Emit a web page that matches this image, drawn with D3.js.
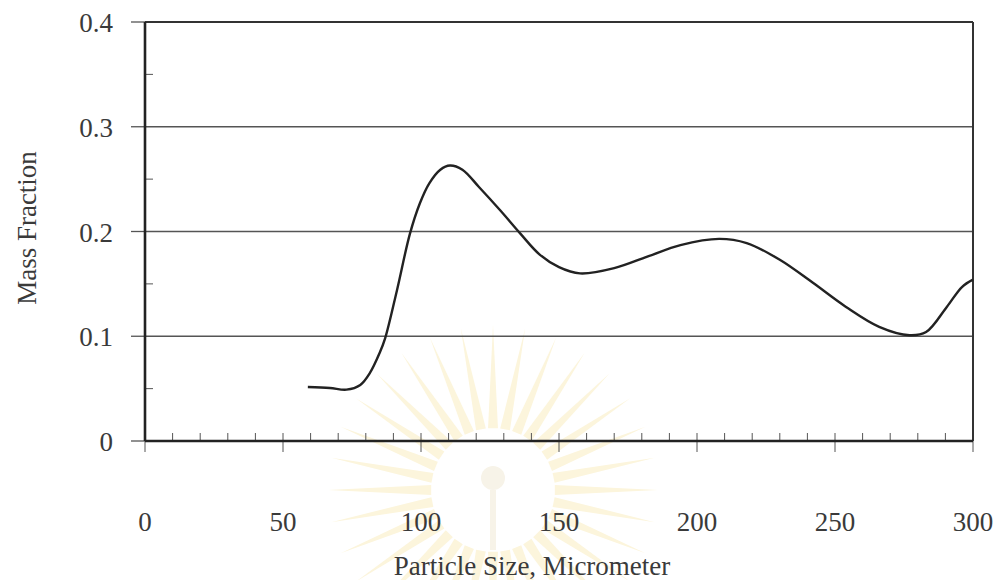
<!DOCTYPE html>
<html>
<head>
<meta charset="utf-8">
<script src="https://cdn.jsdelivr.net/npm/d3@7"></script>
<style>
  body { margin: 0; background: #fff; }
  text { font-family: "Liberation Serif", "DejaVu Serif", serif; fill: #3a3a3a; }
</style>
</head>
<body>
<div id="chart"></div>
<script>
// particle size (micrometer) and mass fraction
var sizes = [59, 67, 73, 78, 81.5, 85, 87, 91.3, 96, 99.6, 103, 107, 110.5, 115, 121, 128.6, 136, 143, 150, 157.6,
             170, 182, 194, 208, 218, 230, 242, 254, 266, 277, 283, 290.5, 296, 300]
var fractions = [0.0515, 0.0506, 0.0490, 0.0535, 0.065, 0.084, 0.098, 0.144, 0.198, 0.227, 0.246, 0.259, 0.263, 0.259, 0.2425, 0.2205, 0.198, 0.178, 0.166, 0.160,
                 0.165, 0.176, 0.187, 0.193, 0.189, 0.173, 0.151, 0.128, 0.109, 0.101, 0.104, 0.128, 0.147, 0.154]
var xTicks = [0, 50, 100, 150, 200, 250, 300]
var yTicks = [0, 0.1, 0.2, 0.3, 0.4]

var W = 998, H = 580
var margin = {top: 22, right: 25, bottom: 139, left: 145}

var svg = d3.select("#chart").append("svg")
  .attr("width", W).attr("height", H)

var x = d3.scaleLinear().domain([0, 300]).range([margin.left, W - margin.right])
var y = d3.scaleLinear().domain([0, 0.4]).range([H - margin.bottom, margin.top])

//////////////////// faint watermark behind the chart ////////////////////
var wm = svg.append("g").attr("transform", "translate(493,490)")
d3.range(0, 32).forEach(function (i) {
  var a = i * Math.PI * 2 / 32
  var a0 = a - 0.08, a1 = a + 0.08
  wm.append("path")
    .attr("d", "M" + 62 * Math.cos(a0) + "," + 62 * Math.sin(a0) +
               "L" + 165 * Math.cos(a) + "," + 165 * Math.sin(a) +
               "L" + 62 * Math.cos(a1) + "," + 62 * Math.sin(a1) + "Z")
    .style("fill", "#fcf5dc")
})
wm.append("circle").attr("r", 58).style("fill", "#fff")
wm.append("circle").attr("cy", -12).attr("r", 12).style("fill", "#f7f3e8")
wm.append("rect").attr("x", -3).attr("y", 0).attr("width", 6).attr("height", 60).style("fill", "#f7f3e8")

//////////////////// grid, ticks and frame ////////////////////
svg.append("g").selectAll("line.grid")
  .data([0.1, 0.2, 0.3])
  .enter().append("line")
    .attr("x1", x(0)).attr("x2", x(300))
    .attr("y1", d => y(d)).attr("y2", d => y(d))
    .style("stroke", "#555").style("stroke-width", 1.4)

// minor ticks inside the frame
svg.append("g").selectAll("line")
  .data(d3.range(10, 300, 10).filter(d => d % 50 != 0))
  .enter().append("line")
    .attr("x1", d => x(d)).attr("x2", d => x(d))
    .attr("y1", y(0)).attr("y2", y(0) - 8)
    .style("stroke", "#555").style("stroke-width", 1)

svg.append("g").selectAll("line")
  .data([0.05, 0.15, 0.25, 0.35])
  .enter().append("line")
    .attr("x1", x(0)).attr("x2", x(0) + 8)
    .attr("y1", d => y(d)).attr("y2", d => y(d))
    .style("stroke", "#555").style("stroke-width", 1)

// major ticks cross the axis lines
svg.append("g").selectAll("line")
  .data(xTicks)
  .enter().append("line")
    .attr("x1", d => x(d)).attr("x2", d => x(d))
    .attr("y1", y(0) - 8).attr("y2", y(0) + 11)
    .style("stroke", "#555").style("stroke-width", 1)

svg.append("g").selectAll("line")
  .data(yTicks)
  .enter().append("line")
    .attr("x1", x(0) - 14).attr("x2", x(0))
    .attr("y1", d => y(d)).attr("y2", d => y(d))
    .style("stroke", "#555").style("stroke-width", 1.3)

// frame
svg.append("line").attr("x1", x(0)).attr("x2", x(300)).attr("y1", y(0.4)).attr("y2", y(0.4))
  .style("stroke", "#333").style("stroke-width", 2)
svg.append("line").attr("x1", x(300)).attr("x2", x(300)).attr("y1", y(0.4)).attr("y2", y(0))
  .style("stroke", "#333").style("stroke-width", 2)
svg.append("line").attr("x1", x(0)).attr("x2", x(300)).attr("y1", y(0)).attr("y2", y(0))
  .style("stroke", "#222").style("stroke-width", 2.6)
svg.append("line").attr("x1", x(0)).attr("x2", x(0)).attr("y1", y(0.4)).attr("y2", y(0))
  .style("stroke", "#222").style("stroke-width", 2.6)

//////////////////// tick labels and titles ////////////////////
svg.append("g").selectAll("text")
  .data(xTicks)
  .enter().append("text")
    .attr("x", d => x(d)).attr("y", 531)
    .attr("text-anchor", "middle")
    .style("font-size", "27px")
    .text(d => d)

svg.append("g").selectAll("text")
  .data(yTicks)
  .enter().append("text")
    .attr("x", 113).attr("y", d => y(d) + 10)
    .attr("text-anchor", "end")
    .style("font-size", "27px")
    .text(d => d)

svg.append("text")
  .attr("x", 532).attr("y", 575)
  .attr("text-anchor", "middle")
  .style("font-size", "27px")
  .text("Particle Size, Micrometer")

svg.append("text")
  .attr("transform", "translate(36," + 228 + ") rotate(-90)")
  .attr("text-anchor", "middle")
  .style("font-size", "27px")
  .text("Mass Fraction")

//////////////////// the curve ////////////////////
var line = d3.line()
  .x((d, i) => x(sizes[i]))
  .y(d => y(d))
  .curve(d3.curveCatmullRom)

svg.append("path")
  .attr("d", line(fractions))
  .style("fill", "none")
  .style("stroke", "#222")
  .style("stroke-width", 2.4)
</script>
</body>
</html>
